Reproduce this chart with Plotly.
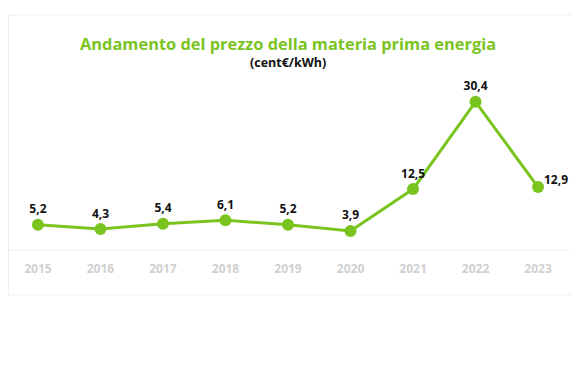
import plotly.graph_objects as go

years = ["2015", "2016", "2017", "2018", "2019", "2020", "2021", "2022", "2023"]
prices = [5.2, 4.3, 5.4, 6.1, 5.2, 3.9, 12.5, 30.4, 12.9]
labels = ["5,2", "4,3", "5,4", "6,1", "5,2", "3,9", "12,5", "30,4", "12,9"]

green = "#7ac41f"
label_font = dict(family="Open Sans", size=12, color="#111111", weight=700)

# page is rendered with an 8px body margin; figure sized to fit the window
W, H = 572, 379
top, bottom = 86, 242  # plot area in figure px
ph = bottom - top

fig = go.Figure(go.Scatter(
    x=years, y=prices, mode="lines+markers+text",
    text=labels[:-1] + [""], textposition="top center",
    textfont=label_font,
    line=dict(color=green, width=3),
    marker=dict(color=green, size=12),
    cliponaxis=False, hoverinfo="skip",
))

fig.update_layout(
    width=W, height=H,
    margin=dict(l=0, r=10, t=top, b=H - bottom, pad=0),
    paper_bgcolor="white", plot_bgcolor="white",
    showlegend=False,
    font=dict(family="Open Sans"),
    xaxis=dict(type="category", range=[-0.479, 8.511], showgrid=False, zeroline=False,
               showline=True, linecolor="#f0f0f0", linewidth=1, ticks="",
               ticklabelstandoff=8,
               tickfont=dict(family="Open Sans", size=12, color="#d0d0d0", weight=700)),
    yaxis=dict(range=[0, 32], showgrid=False, zeroline=False, showticklabels=False,
               showline=False),
    shapes=[dict(type="rect", xref="paper", yref="paper",
                 x0=0.001, x1=1.009, y0=(bottom - 287) / ph, y1=(bottom - 7) / ph,
                 line=dict(color="#eeeeee", width=1), fillcolor="rgba(0,0,0,0)", layer="below")],
    annotations=[
        dict(text="Andamento del prezzo della materia prima energia", xref="paper", yref="paper",
             x=(288 - 8) / 562, y=(bottom - 35) / ph, xanchor="center", yanchor="middle", showarrow=False,
             font=dict(family="Open Sans", size=16.4, color=green, weight=700)),
        dict(text="(cent€/kWh)", xref="paper", yref="paper",
             x=(288 - 8) / 562, y=(bottom - 54) / ph, xanchor="center", yanchor="middle", showarrow=False,
             font=dict(family="Open Sans", size=12.5, color="#111111", weight=700)),
        dict(text=labels[-1], x=len(years) - 1, y=prices[-1], xref="x", yref="y",
             xanchor="left", yanchor="middle", xshift=4, yshift=8, showarrow=False,
             font=label_font),
    ],
)

fig.write_html("out.html")
